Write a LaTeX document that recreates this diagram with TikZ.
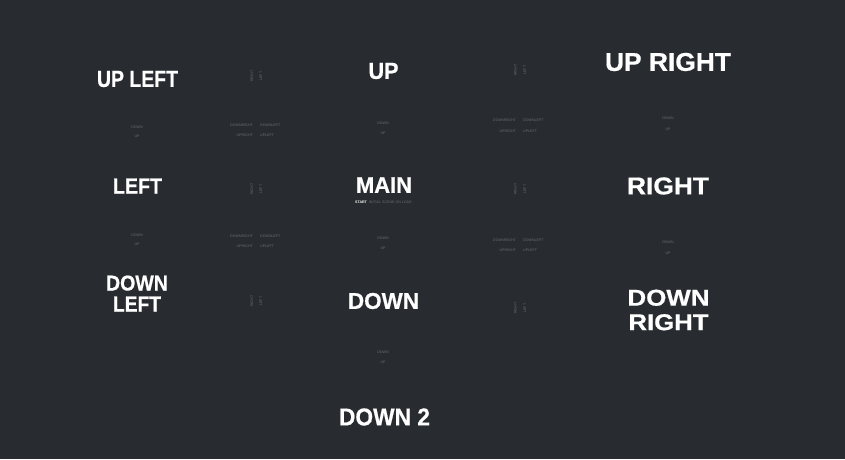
\documentclass[tikz,border=0pt]{standalone}
\usepackage{fontspec}
\setmainfont{Liberation Sans}
\newfontfamily\heavyfont[FakeBold=0.6]{Liberation Sans Bold}
\usepackage{graphicx}
\definecolor{bg}{HTML}{282B2F}
\definecolor{lbl}{HTML}{6A6E74}
\newcommand\bigtxt[3]{\resizebox{#1pt}{#2pt}{\heavyfont #3}}
\tikzset{
  scene/.style={inner sep=0pt, text=white, align=center, font=\fontsize{10}{#1}\selectfont},
  scene/.default=21,
  tinylbl/.style={inner sep=0pt, text=lbl, font=\fontsize{3.6}{4.3}\selectfont},
  tinyl/.style={tinylbl, anchor=east},
  tinyr/.style={tinylbl, anchor=west},
  rotlbl/.style={tinylbl, rotate=90},
}
\begin{document}
\begin{tikzpicture}[x=1pt,y=-1pt]
\fill[bg] (0,0) rectangle (845,459);
\useasboundingbox (0,0) rectangle (845,459);

% scenes
\node[scene] (ul) at (137.5,79) {\bigtxt{81}{16}{UP LEFT}};
\node[scene] (u) at (383.5,71) {\bigtxt{30}{16}{UP}};
\node[scene] (ur) at (668,62) {\bigtxt{126}{18}{UP RIGHT}};
\node[scene] (l) at (137.5,186) {\bigtxt{49}{15}{LEFT}};
\node[scene] (m) at (384,185) {\bigtxt{56}{15.5}{MAIN}};
\node[scene] (r) at (668,186) {\bigtxt{82}{17}{RIGHT}};
\node[scene=21] (dl) at (137,293.5) {\bigtxt{62}{15}{DOWN}\\\bigtxt{48}{15}{LEFT}};
\node[scene] (d) at (383.5,301) {\bigtxt{71}{16}{DOWN}};
\node[scene=24.5] (dr) at (668.5,310) {\bigtxt{82}{16}{DOWN}\\\bigtxt{80}{16}{RIGHT}};
\node[scene] (d2) at (384.5,417) {\bigtxt{91}{17}{DOWN 2}};

\node[tinyr] (start) at (355,202.5) {\textcolor{white}{\bfseries START}\ \ INITIAL SCENE ON LOAD};

% vertical transitions
\node[tinylbl] (ul-l-a) at (137,127) {DOWN};
\node[tinylbl] (ul-l-b) at (137,136) {UP};
\node[tinylbl] (l-dl-a) at (137,235) {DOWN};
\node[tinylbl] (l-dl-b) at (137,244) {UP};
\node[tinylbl] (u-m-a) at (383,123) {DOWN};
\node[tinylbl] (u-m-b) at (383,133) {UP};
\node[tinylbl] (m-d-a) at (383,238) {DOWN};
\node[tinylbl] (m-d-b) at (383,248) {UP};
\node[tinylbl] (d-d2-a) at (383,352) {DOWN};
\node[tinylbl] (d-d2-b) at (383,362) {UP};
\node[tinylbl] (ur-r-a) at (668,118) {DOWN};
\node[tinylbl] (ur-r-b) at (668,129) {UP};
\node[tinylbl] (r-dr-a) at (668,242) {DOWN};
\node[tinylbl] (r-dr-b) at (668,253) {UP};

% horizontal transitions
\node[rotlbl] (ul-u-a) at (252,76) {RIGHT};
\node[rotlbl] (ul-u-b) at (261,76) {LEFT};
\node[rotlbl] (l-m-a) at (252,189) {RIGHT};
\node[rotlbl] (l-m-b) at (261,189) {LEFT};
\node[rotlbl] (dl-d-a) at (252,301) {RIGHT};
\node[rotlbl] (dl-d-b) at (261,301) {LEFT};
\node[rotlbl] (u-ur-a) at (515.5,70) {RIGHT};
\node[rotlbl] (u-ur-b) at (525,70) {LEFT};
\node[rotlbl] (m-r-a) at (515.5,189) {RIGHT};
\node[rotlbl] (m-r-b) at (525,189) {LEFT};
\node[rotlbl] (d-dr-a) at (515.5,308) {RIGHT};
\node[rotlbl] (d-dr-b) at (525,308) {LEFT};

% diagonal transitions
\node[tinyl] (q1-a) at (253,125.7) {DOWNRIGHT};
\node[tinyr] (q1-b) at (260,125.7) {DOWNLEFT};
\node[tinyl] (q1-c) at (253,135) {UPRIGHT};
\node[tinyr] (q1-d) at (260,135) {UPLEFT};
\node[tinyl] (q2-a) at (516,120.7) {DOWNRIGHT};
\node[tinyr] (q2-b) at (523,120.7) {DOWNLEFT};
\node[tinyl] (q2-c) at (516,131) {UPRIGHT};
\node[tinyr] (q2-d) at (523,131) {UPLEFT};
\node[tinyl] (q3-a) at (253,236) {DOWNRIGHT};
\node[tinyr] (q3-b) at (260,236) {DOWNLEFT};
\node[tinyl] (q3-c) at (253,246) {UPRIGHT};
\node[tinyr] (q3-d) at (260,246) {UPLEFT};
\node[tinyl] (q4-a) at (516,240.7) {DOWNRIGHT};
\node[tinyr] (q4-b) at (523,240.7) {DOWNLEFT};
\node[tinyl] (q4-c) at (516,250.7) {UPRIGHT};
\node[tinyr] (q4-d) at (523,250.7) {UPLEFT};
\end{tikzpicture}
\end{document}
